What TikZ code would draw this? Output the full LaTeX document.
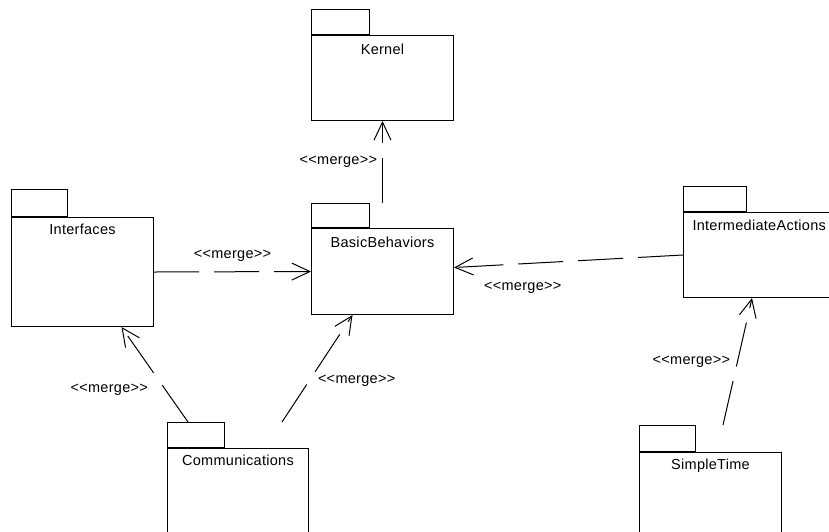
\documentclass[tikz,border=0pt]{standalone}
\usepackage{fontspec}
\setmainfont{Liberation Sans}[LetterSpace=2]
\usetikzlibrary{positioning,arrows.meta}
\newcommand{\mergetext}{<{}<merge>{}>}

\begin{document}
\begin{tikzpicture}[x=1pt,y=-1pt,line width=1pt,
        every node/.style={font=\fontsize{14.5}{18}\selectfont,inner sep=0pt},
        pkg/.style={draw,anchor=north west,minimum width=142pt},
        pkgtab/.style={draw,anchor=south west,minimum height=25pt},
        merge/.style={dash pattern=on 45pt off 15pt,-{Straight Barb[length=18pt,width=17pt]}}]
        \clip (0,0) rectangle (829,531);
        \node[pkg,minimum height=85pt] (kernel) at (311,35) {};
        \node[pkgtab,minimum width=58pt] (kerneltab) at (kernel.north west) {};
        \node[below=8pt of kernel.north] (kernelname) {Kernel};
        \node[pkg,minimum height=109pt] (ifc) at (11,217) {};
        \node[pkgtab,minimum width=56pt,minimum height=27pt] (ifctab) at (ifc.north west) {};
        \node[below=6pt of ifc.north] (ifcname) {Interfaces};
        \node[pkg,minimum height=86pt] (bb) at (311,228) {};
        \node[pkgtab,minimum width=58pt,minimum height=24pt] (bbtab) at (bb.north west) {};
        \node[below=8pt of bb.north] (bbname) {BasicBehaviors};
        \node[pkg,minimum width=160pt,minimum height=85pt] (ia) at (683,212) {};
        \node[pkgtab,minimum width=63pt] (iatab) at (ia.north west) {};
        \node[below right=7pt and 9pt of ia.north west] (ianame) {IntermediateActions};
        \node[pkg,minimum width=141pt,minimum height=100pt] (comm) at (167,448) {};
        \node[pkgtab,minimum width=57pt] (commtab) at (comm.north west) {};
        \node[below=6pt of comm.north] (commname) {Communications};
        \node[pkg,minimum height=100pt] (st) at (639,452) {};
        \node[pkgtab,minimum width=56pt,minimum height=26pt] (sttab) at (st.north west) {};
        \node[below=6pt of st.north] (stname) {SimpleTime};
        \draw[merge] (kernel.south |- bbtab.north) -- node[left=5pt] {\mergetext} (kernel.south);
        \draw[merge] (ifc.east) -- node[above=10pt] {\mergetext} (bb.west);
        \draw[merge] (ia.west) -- node[pos=0.7,below=18pt] {\mergetext} ([yshift=4pt]bb.east);
        \draw[merge] ([xshift=21pt]commtab.north west) -- node[pos=0.34,left=17pt] {\mergetext} ([xshift=39pt]ifc.south);
        \draw[merge] ([xshift=115pt]commtab.north west) -- node[pos=0.39,right=8pt] {\mergetext} ([xshift=-30pt]bb.south);
        \draw[merge] ([xshift=84pt]sttab.north west) -- node[midway,left=7pt] {\mergetext} ([xshift=69pt]ia.south west);
    \end{tikzpicture}
\end{document}
